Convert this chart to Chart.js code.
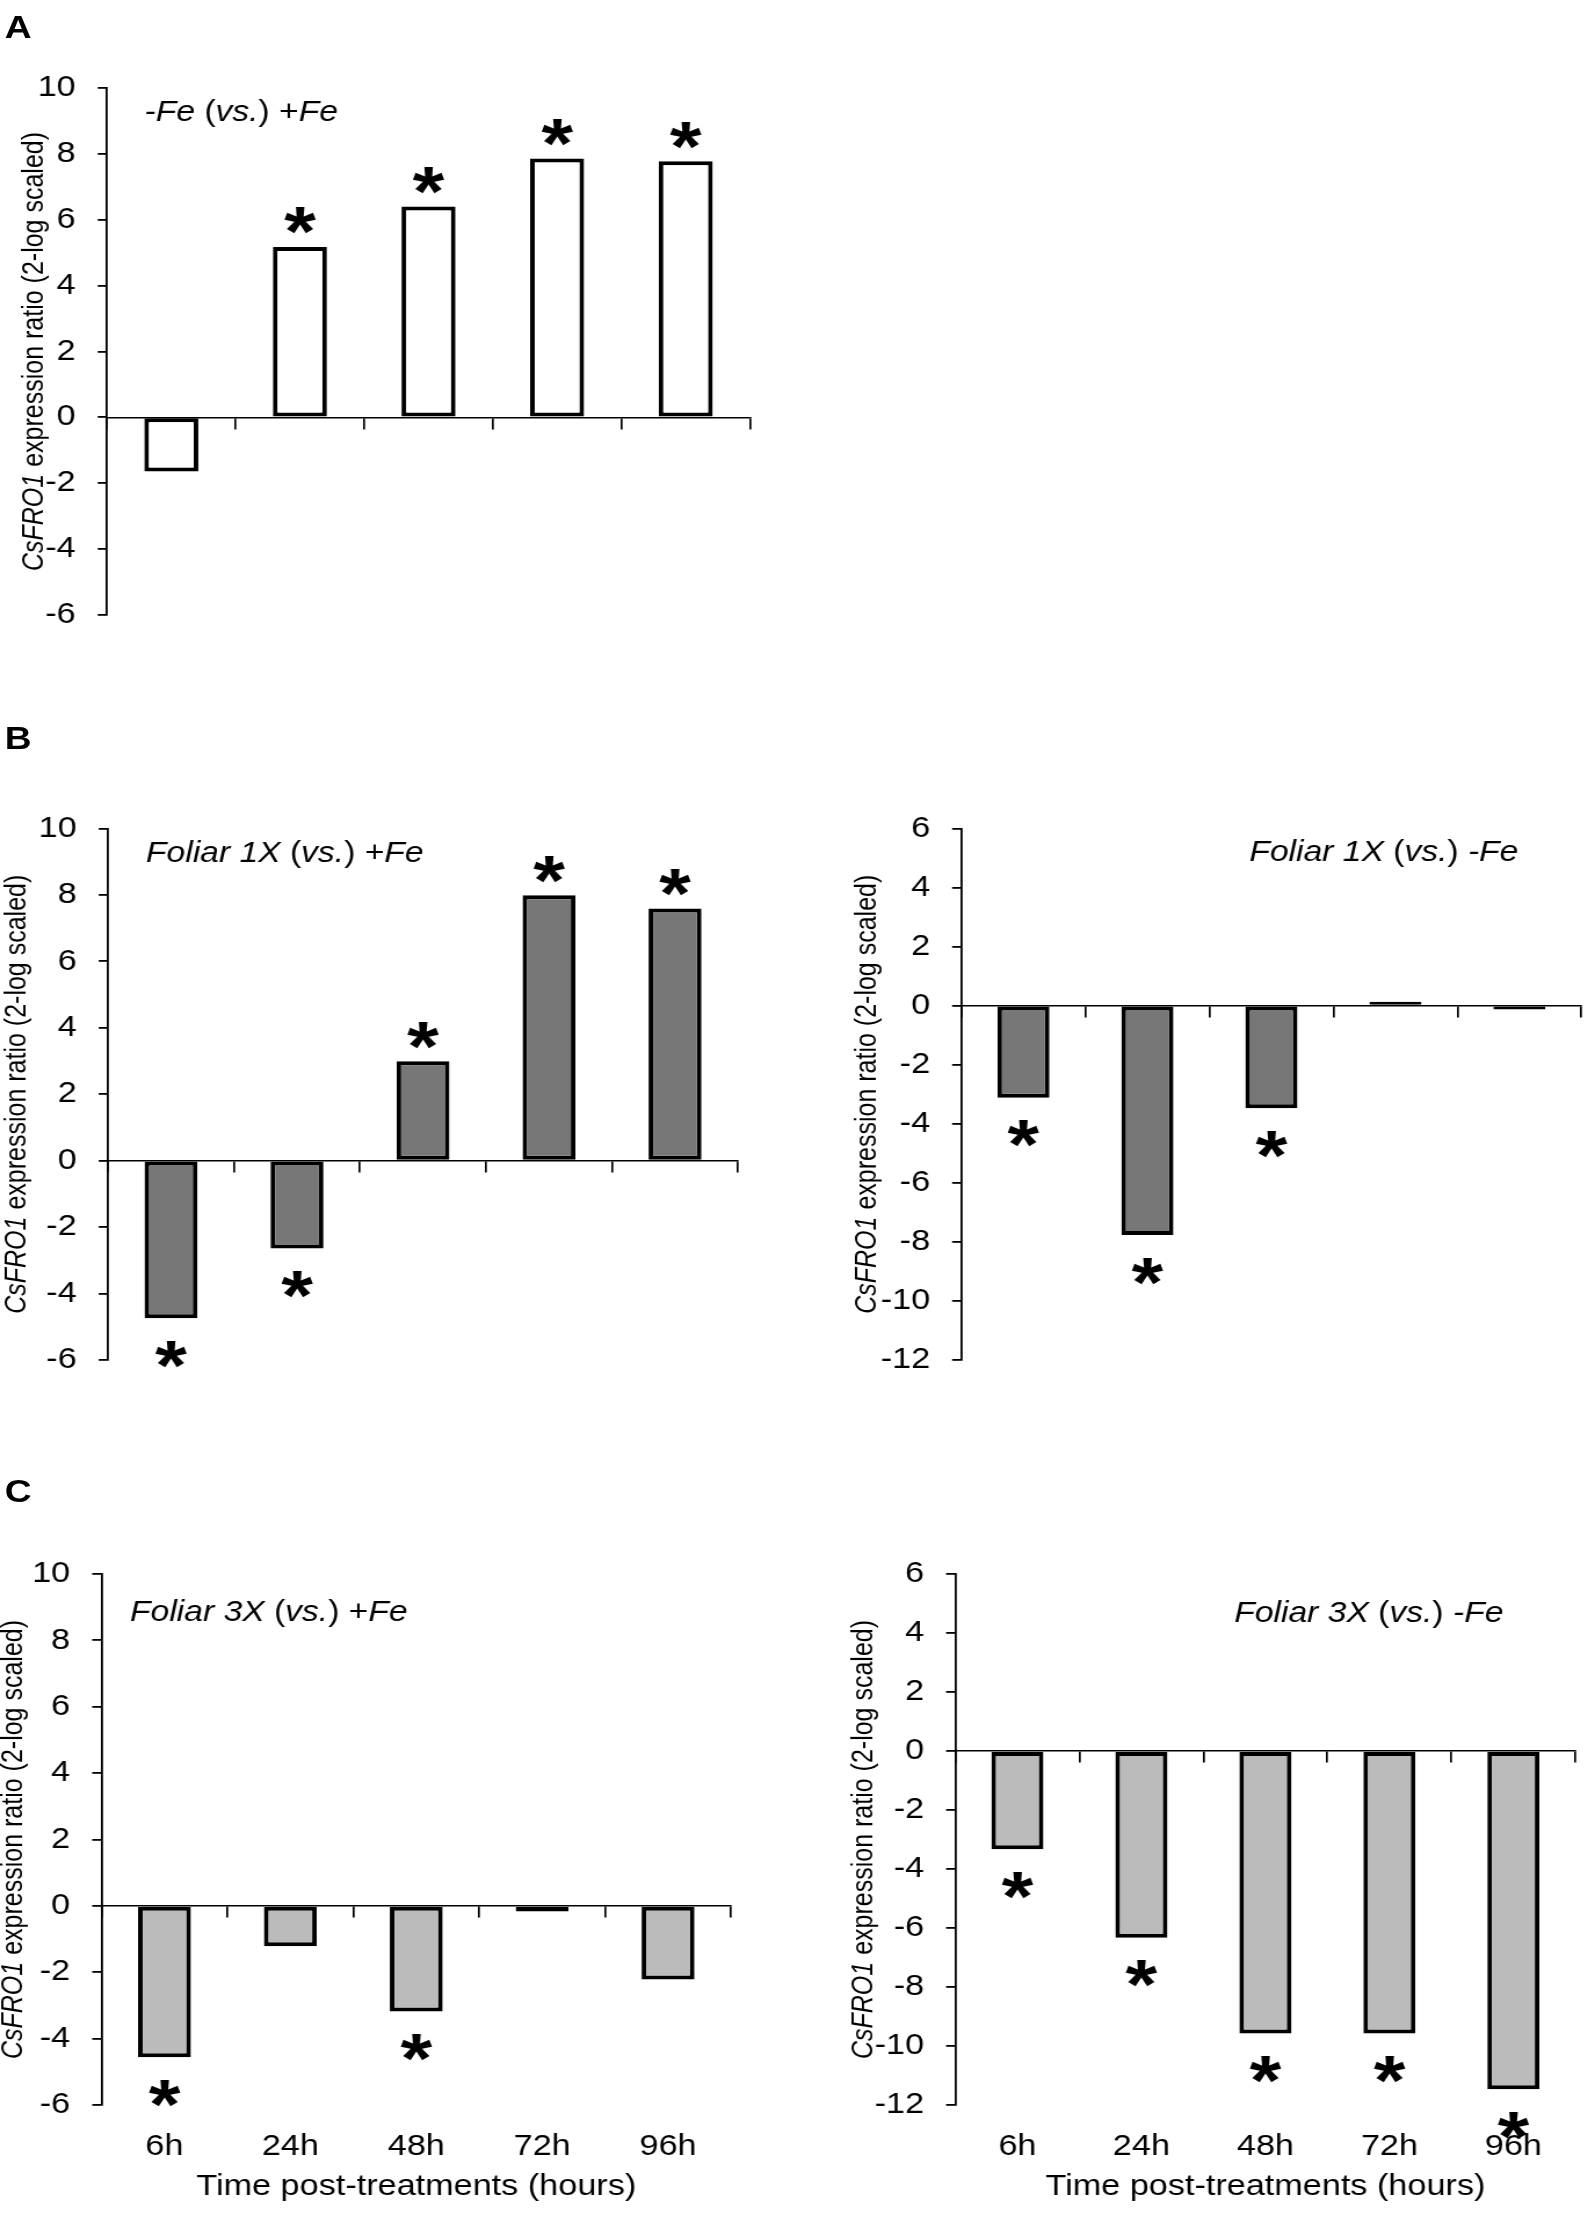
<!DOCTYPE html>
<html>
<head>
<meta charset="utf-8">
<script src="https://cdn.jsdelivr.net/npm/chart.js@4.4.1/dist/chart.umd.min.js"></script>
<style>
  html, body { margin: 0; padding: 0; background: #fff; overflow: hidden; }
  #sheet { position: absolute; left: 0; top: 0; height: 2218px; transform-origin: 0 0; }
  #sheet canvas { position: absolute; }
  .letter { position: absolute; font: bold 32px "Liberation Sans", Arial, sans-serif; line-height: 32px; color: #000; }
</style>
</head>
<body>
<div id="sheet">
  <div class="letter" style="left:4px; top:11px">A</div>
  <div class="letter" style="left:4px; top:722px">B</div>
  <div class="letter" style="left:4px; top:1475px">C</div>
  <canvas id="panelA"></canvas>
  <canvas id="panelB1"></canvas>
  <canvas id="panelB2"></canvas>
  <canvas id="panelC1"></canvas>
  <canvas id="panelC2"></canvas>
</div>
<script>
// data (log2 expression ratios)
const hours = ['6h', '24h', '48h', '72h', '96h'];
const minusFeVsPlusFe = [-1.65, 5.18, 6.41, 7.87, 7.78];
const foliar1xVsPlusFe = [-4.74, -2.64, 2.99, 7.99, 7.59];
const foliar1xVsMinusFe = [-3.12, -7.77, -3.47, 0.13, -0.13];
const foliar3xVsPlusFe = [-4.56, -1.22, -3.18, -0.17, -2.22];
const foliar3xVsMinusFe = [-3.33, -6.33, -9.58, -9.58, -11.47];

// significance stars
const sigMinusFe = [false, true, true, true, true];
const sig1xPlusFe = [true, true, true, true, true];
const sig1xMinusFe = [true, true, true, false, false];
const sig3xPlusFe = [true, false, true, false, false];
const sig3xMinusFe = [true, true, true, true, true];

// y tick labels
const yTicksUp = [-6, -4, -2, 0, 2, 4, 6, 8, 10];
const yTicksDown = [-12, -10, -8, -6, -4, -2, 0, 2, 4, 6];

const S = 1.16; // the original figure is stretched horizontally
const sheet = document.getElementById('sheet');
sheet.style.width = Math.ceil(1584 / S) + 'px';
sheet.style.transform = 'scaleX(' + S + ')';

const FONT = '"Liberation Sans", Arial, sans-serif';
Chart.defaults.font.family = FONT;
Chart.defaults.color = '#000';

const yTitle = [{ t: 'CsFRO1', it: true }, { t: ' expression ratio (2-log scaled)', it: false }];

function drawRuns(ctx, runs, x, y, align, size) {
  let total = 0;
  const widths = runs.map(r => {
    ctx.font = (r.it ? 'italic ' : '') + size + 'px ' + FONT;
    const w = ctx.measureText(r.t).width;
    total += w;
    return w;
  });
  let cx = align === 'center' ? x - total / 2 : align === 'right' ? x - total : x;
  ctx.textAlign = 'left';
  runs.forEach((r, i) => {
    ctx.font = (r.it ? 'italic ' : '') + size + 'px ' + FONT;
    ctx.fillText(r.t, cx, y);
    cx += widths[i];
  });
}

const panelText = {
  id: 'panelText',
  afterDatasetsDraw(chart, args, o) {
    const ctx = chart.ctx;
    const meta = chart.getDatasetMeta(0);
    const vals = chart.data.datasets[0].data;
    ctx.save();
    ctx.fillStyle = '#000';
    ctx.font = 'bold 70px ' + FONT;
    ctx.textAlign = 'center';
    ctx.textBaseline = 'alphabetic';
    const m = ctx.measureText('*');
    const mid = (m.actualBoundingBoxAscent - m.actualBoundingBoxDescent) / 2;
    o.sig.forEach((s, i) => {
      if (!s) return;
      const bar = meta.data[i];
      const cy = vals[i] >= 0 ? bar.y - 26 : bar.y + 36;
      ctx.fillText('*', bar.x, cy + mid);
    });
    ctx.restore();
  },
  afterDraw(chart, args, o) {
    const ctx = chart.ctx;
    const a = chart.chartArea;
    ctx.save();
    ctx.fillStyle = '#000';
    ctx.textBaseline = 'middle';
    ctx.translate(o.titleX, (a.top + a.bottom) / 2);
    ctx.rotate(-Math.PI / 2);
    drawRuns(ctx, yTitle, 0, 0, 'center', 25);
    ctx.restore();
    ctx.save();
    ctx.fillStyle = '#000';
    ctx.textBaseline = 'alphabetic';
    drawRuns(ctx, o.note, o.noteX, o.noteY, o.noteAlign, 29);
    ctx.restore();
  }
};

// box/plot/title/note positions are in page pixels
function makePanel(id, box, plot, values, sig, yTicks, fill, note, showX) {
  const cv = document.getElementById(id);
  cv.width = Math.round(box.w / S);
  cv.height = box.h;
  cv.style.left = (box.x / S) + 'px';
  cv.style.top = box.y + 'px';
  const xBottom = box.y + box.h - plot.bottom;
  const scales = {
    x: {
      type: 'category',
      position: { y: 0 },
      offset: true,
      grid: { offset: true, drawOnChartArea: false, drawTicks: true, tickLength: 11, color: '#000', lineWidth: 1.7 },
      border: { display: true, color: '#000', width: 1.6 },
      ticks: { display: false }
    },
    y: {
      min: yTicks[0],
      max: yTicks[yTicks.length - 1],
      afterBuildTicks: s => { s.ticks = yTicks.map(v => ({ value: v })); },
      afterFit: s => { s.width = (plot.left - box.x) / S; },
      ticks: { font: { size: 29.5 }, color: '#000', padding: 19 },
      grid: { drawOnChartArea: false, drawTicks: true, tickLength: 8, color: '#000', lineWidth: 1.8 },
      border: { display: true, color: '#000', width: 1.8 }
    }
  };
  if (showX) {
    scales.x2 = {
      type: 'category',
      labels: hours,
      position: 'bottom',
      offset: true,
      grid: { display: false, drawTicks: false },
      border: { display: false },
      ticks: { font: { size: 29.5 }, color: '#000', padding: 24, maxRotation: 0, autoSkip: false },
      title: { display: true, text: 'Time post-treatments (hours)', font: { size: 29.5 }, color: '#000', padding: { top: 0, bottom: 13 } },
      afterFit: s => { s.height = xBottom; }
    };
  }
  new Chart(cv, {
    type: 'bar',
    data: {
      labels: hours,
      datasets: [{
        data: values,
        backgroundColor: fill,
        borderColor: '#000',
        borderWidth: 4,
        borderSkipped: false,
        barPercentage: 0.42,
        categoryPercentage: 1
      }]
    },
    options: {
      responsive: false,
      animation: false,
      events: [],
      layout: {
        padding: {
          left: 0,
          top: plot.top - box.y,
          right: cv.width - (plot.right - box.x) / S,
          bottom: showX ? 0 : xBottom
        }
      },
      plugins: {
        legend: { display: false },
        tooltip: { enabled: false },
        panelText: {
          sig: sig,
          titleX: (note.titleX - box.x) / S,
          note: note.runs,
          noteX: (note.x - box.x) / S,
          noteY: note.y - box.y,
          noteAlign: note.align
        }
      },
      scales: scales
    },
    plugins: [panelText]
  });
}

makePanel('panelA', { x: 0, y: 0, w: 780, h: 660 }, { left: 107, right: 750, top: 88.3, bottom: 614.7 },
  minusFeVsPlusFe, sigMinusFe, yTicksUp, '#ffffff',
  { titleX: 35, x: 144.5, y: 121, align: 'left',
    runs: [{ t: '-Fe', it: true }, { t: ' (', it: false }, { t: 'vs.', it: true }, { t: ') +', it: false }, { t: 'Fe', it: true }] },
  false);

makePanel('panelB1', { x: 0, y: 700, w: 780, h: 700 }, { left: 108, right: 738, top: 828.5, bottom: 1360 },
  foliar1xVsPlusFe, sig1xPlusFe, yTicksUp, '#777777',
  { titleX: 17, x: 146, y: 861.5, align: 'left',
    runs: [{ t: 'Foliar 1X', it: true }, { t: ' (', it: false }, { t: 'vs.', it: true }, { t: ') +', it: false }, { t: 'Fe', it: true }] },
  false);

makePanel('panelB2', { x: 800, y: 700, w: 784, h: 700 }, { left: 961, right: 1581, top: 828.5, bottom: 1360 },
  foliar1xVsMinusFe, sig1xMinusFe, yTicksDown, '#777777',
  { titleX: 867, x: 1518, y: 861, align: 'right',
    runs: [{ t: 'Foliar 1X', it: true }, { t: ' (', it: false }, { t: 'vs.', it: true }, { t: ') ', it: false }, { t: '-Fe', it: true }] },
  false);

makePanel('panelC1', { x: 0, y: 1440, w: 780, h: 778 }, { left: 101.5, right: 731, top: 1574, bottom: 2105 },
  foliar3xVsPlusFe, sig3xPlusFe, yTicksUp, '#bbbbbb',
  { titleX: 14, x: 130, y: 1620.5, align: 'left',
    runs: [{ t: 'Foliar 3X', it: true }, { t: ' (', it: false }, { t: 'vs.', it: true }, { t: ') +', it: false }, { t: 'Fe', it: true }] },
  true);

makePanel('panelC2', { x: 800, y: 1440, w: 784, h: 778 }, { left: 955, right: 1575, top: 1574, bottom: 2105 },
  foliar3xVsMinusFe, sig3xMinusFe, yTicksDown, '#bbbbbb',
  { titleX: 864, x: 1503, y: 1622, align: 'right',
    runs: [{ t: 'Foliar 3X', it: true }, { t: ' (', it: false }, { t: 'vs.', it: true }, { t: ') ', it: false }, { t: '-Fe', it: true }] },
  true);
</script>
</body>
</html>
